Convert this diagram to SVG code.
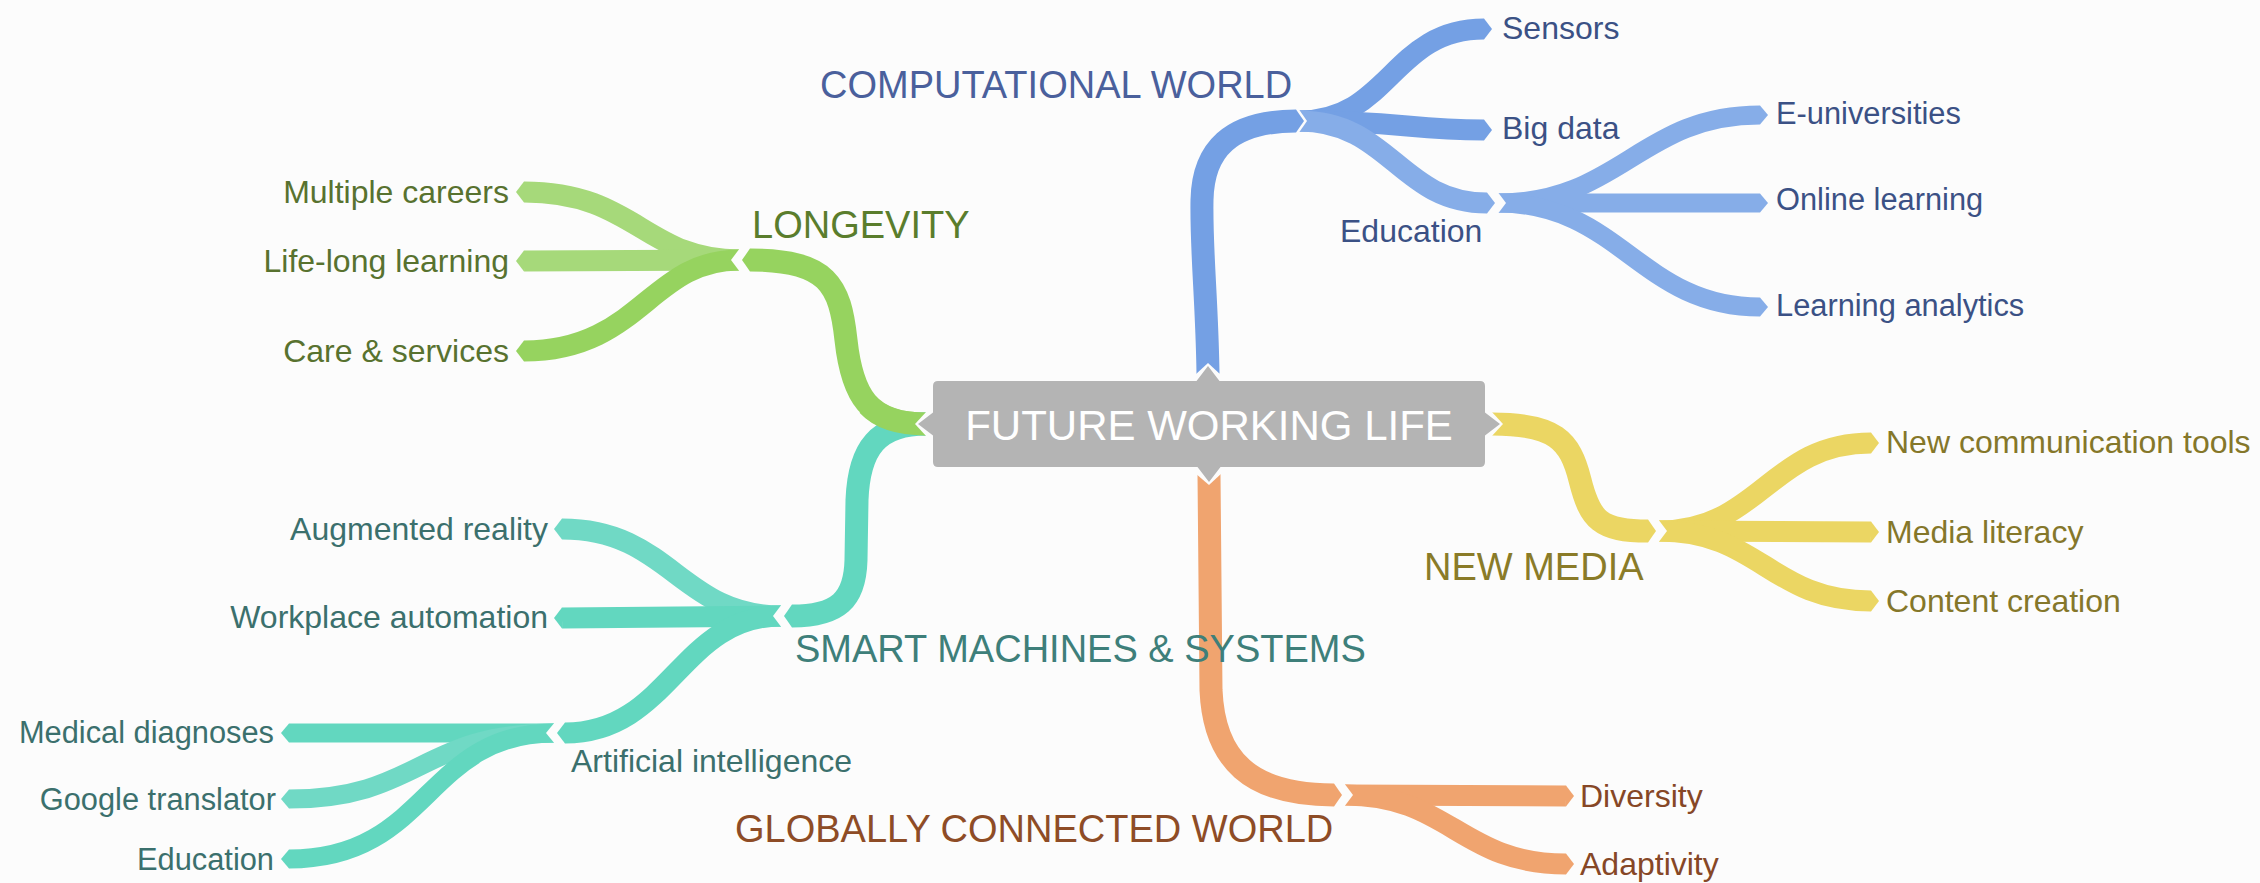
<svg xmlns="http://www.w3.org/2000/svg" width="2260" height="883" viewBox="0 0 2260 883">
<style>
.s{fill:none;stroke-linecap:butt;stroke-linejoin:round}
.w1{stroke-width:23}.w2{stroke-width:21}.w3{stroke-width:19}
.bl{stroke:#74a0e4}.bl2{stroke:#86ade8}
.gr{stroke:#96d35f}.gr2{stroke:#a6d97a}
.te{stroke:#62d7bf}.te2{stroke:#70d9c5}
.ye{stroke:#ebd663}
.or{stroke:#f0a46f}
.fbl{fill:#74a0e4}.fbl2{fill:#86ade8}.fgr{fill:#96d35f}.fgr2{fill:#a6d97a}.fte{fill:#62d7bf}.fte2{fill:#70d9c5}.fye{fill:#ebd663}.for{fill:#f0a46f}
.n{fill:#fcfcfc}
text{font-family:"Liberation Sans",Arial,sans-serif}
.cat{font-size:38px}.leaf{font-size:32px}.leaf3{font-size:30.8px}
.tb{fill:#4a609c}.tb2{fill:#3b5185}
.tg{fill:#5a7d2c}.tg2{fill:#58722f}
.tt{fill:#3e7f7a}.tt2{fill:#3b706d}
.ty{fill:#8a7b28}.ty2{fill:#85772a}
.to{fill:#8e4c26}.to2{fill:#864726}
</style>
<rect width="2260" height="883" fill="#fcfcfc"/>
<g id="connectors">
  <!-- BLUE -->
  <path class="s w3 bl2" d="M1498,203 C1620,203 1640,115 1760,115"/>
  <path class="s w3 bl2" d="M1498,203 L1760,203"/>
  <path class="s w3 bl2" d="M1498,203 C1620,203 1640,307 1760,307"/>
  <polygon class="fbl2" points="1760,105.5 1768,115 1760,124.5"/>
  <polygon class="fbl2" points="1760,193.5 1768,203 1760,212.5"/>
  <polygon class="fbl2" points="1760,297.5 1768,307 1760,316.5"/>
  <polygon class="n" points="1497,191 1497,215 1506,203"/>
  <path class="s w2 bl" d="M1299,121 C1390,121 1392,29 1484,29"/>
  <path class="s w2 bl" d="M1299,121 C1400,121 1410,130 1484,130"/>
  <path class="s w2 bl2" d="M1299,121 C1390,121 1400,203 1487,203"/>
  <polygon class="fbl" points="1484,18.5 1492,29 1484,39.5"/>
  <polygon class="fbl" points="1484,119.5 1492,130 1484,140.5"/>
  <polygon class="fbl2" points="1487,192.5 1495,203 1487,213.5"/>
  <polygon class="n" points="1298,108 1298,134 1307,121"/>
  <path class="s w1 bl" d="M1208,374 C1207,300 1201,250 1202,200 C1203,150 1230,121 1296,121"/>
  <polygon class="fbl" points="1296,109.5 1304,121 1296,132.5"/>
  <polygon class="n" points="1195,375 1221,375 1208,363"/>
  <!-- GREEN -->
  <path class="s w2 gr2" d="M739,260 C645,260 635,192 524,192"/>
  <path class="s w2 gr2" d="M739,260 L524,261"/>
  <path class="s w2 gr" d="M739,260 C650,260 640,351 524,351"/>
  <polygon class="fgr2" points="524,181.5 516,192 524,202.5"/>
  <polygon class="fgr2" points="524,250.5 516,261 524,271.5"/>
  <polygon class="fgr" points="524,340.5 516,351 524,361.5"/>
  <polygon class="n" points="740,248 740,272 731,260"/>
  <path class="s w1 gr" d="M926,424 C868,424 852,395 846,340 C840,285 828,260 750,260"/>
  <polygon class="fgr" points="750,248.5 742,260 750,271.5"/>
  <!-- TEAL -->
  <path class="s w3 te" d="M554,733 L289,733"/>
  <path class="s w3 te2" d="M554,733 C420,733 420,799 289,799"/>
  <path class="s w3 te" d="M554,733 C425,733 430,859 289,859"/>
  <polygon class="fte" points="289,723.5 281,733 289,742.5"/>
  <polygon class="fte2" points="289,789.5 281,799 289,808.5"/>
  <polygon class="fte" points="289,849.5 281,859 289,868.5"/>
  <polygon class="n" points="555,722 555,744 546,733"/>
  <path class="s w2 te2" d="M781,616 C680,616 670,529 562,529"/>
  <path class="s w2 te" d="M781,616 L562,618"/>
  <path class="s w2 te" d="M781,616 C680,616 670,733 565,733"/>
  <polygon class="fte2" points="562,518.5 554,529 562,539.5"/>
  <polygon class="fte" points="562,607.5 554,618 562,628.5"/>
  <polygon class="fte" points="565,722.5 557,733 565,743.5"/>
  <polygon class="n" points="782,604 782,628 773,616"/>
  <path class="s w1 te" d="M926,424 C878,424 859,448 857,500 L856,560 C855,600 838,616 792,616"/>
  <polygon class="fte" points="792,604.5 784,616 792,627.5"/>
  <path class="s w1 gr" d="M926,424 C900,424 880,418 868,405"/>
  <polygon class="n" points="927,411 927,437 915,424"/>
  <!-- YELLOW -->
  <path class="s w2 ye" d="M1659,531 C1760,531 1770,443 1871,443"/>
  <path class="s w2 ye" d="M1659,531 L1871,532"/>
  <path class="s w2 ye" d="M1659,531 C1760,531 1770,601 1871,601"/>
  <polygon class="fye" points="1871,432.5 1879,443 1871,453.5"/>
  <polygon class="fye" points="1871,521.5 1879,532 1871,542.5"/>
  <polygon class="fye" points="1871,590.5 1879,601 1871,611.5"/>
  <polygon class="n" points="1658,519 1658,543 1667,531"/>
  <path class="s w1 ye" d="M1492,424 C1555,424 1570,440 1580,480 C1590,520 1600,531 1648,531"/>
  <polygon class="fye" points="1648,519.5 1656,531 1648,542.5"/>
  <polygon class="n" points="1491,411 1491,437 1503,424"/>
  <!-- ORANGE -->
  <path class="s w2 or" d="M1345,795 L1566,796"/>
  <path class="s w2 or" d="M1345,795 C1450,795 1460,864 1566,864"/>
  <polygon class="for" points="1566,785.5 1574,796 1566,806.5"/>
  <polygon class="for" points="1566,853.5 1574,864 1566,874.5"/>
  <polygon class="n" points="1344,783 1344,807 1353,795"/>
  <path class="s w1 or" d="M1209,474 L1211,690 C1214,760 1250,795 1334,795"/>
  <polygon class="for" points="1334,783.5 1342,795 1334,806.5"/>
  <polygon class="n" points="1195,473 1222,473 1209,485"/>
</g>
<g id="center">
  <path fill="#b4b4b4" d="M938,381 H1196.5 L1208,366 L1219.5,381 H1480 Q1485,381 1485,386 V412.5 L1500,424 L1485,435.5 V462 Q1485,467 1480,467 H1220.5 L1209,482 L1197.5,467 H938 Q933,467 933,462 V435.5 L918,424 L933,412.5 V386 Q933,381 938,381 Z"/>
  <text x="1209" y="440" text-anchor="middle" font-size="42" fill="#ffffff">FUTURE WORKING LIFE</text>
</g>
<g id="computational-world"><text class="cat tb" x="820" y="98">COMPUTATIONAL WORLD</text></g>
<g id="sensors"><text class="leaf tb2" x="1502" y="39">Sensors</text></g>
<g id="big-data"><text class="leaf tb2" x="1502" y="139">Big data</text></g>
<g id="education-blue"><text class="leaf tb2" x="1340" y="242">Education</text></g>
<g id="e-universities"><text class="leaf3 tb2" x="1776" y="124">E-universities</text></g>
<g id="online-learning"><text class="leaf3 tb2" x="1776" y="210">Online learning</text></g>
<g id="learning-analytics"><text class="leaf3 tb2" x="1776" y="316">Learning analytics</text></g>
<g id="longevity"><text class="cat tg" x="752" y="238">LONGEVITY</text></g>
<g id="multiple-careers"><text class="leaf tg2" x="509" y="203" text-anchor="end">Multiple careers</text></g>
<g id="life-long-learning"><text class="leaf tg2" x="509" y="272" text-anchor="end">Life-long learning</text></g>
<g id="care-services"><text class="leaf tg2" x="509" y="362" text-anchor="end">Care &amp; services</text></g>
<g id="smart-machines"><text class="cat tt" x="795" y="662">SMART MACHINES &amp; SYSTEMS</text></g>
<g id="augmented-reality"><text class="leaf tt2" x="548" y="540" text-anchor="end">Augmented reality</text></g>
<g id="workplace-automation"><text class="leaf tt2" x="548" y="628" text-anchor="end">Workplace automation</text></g>
<g id="artificial-intelligence"><text class="leaf tt2" x="571" y="772">Artificial intelligence</text></g>
<g id="medical-diagnoses"><text class="leaf3 tt2" x="274" y="743" text-anchor="end">Medical diagnoses</text></g>
<g id="google-translator"><text class="leaf3 tt2" x="276" y="810" text-anchor="end">Google translator</text></g>
<g id="education-teal"><text class="leaf3 tt2" x="274" y="870" text-anchor="end">Education</text></g>
<g id="new-media"><text class="cat ty" x="1424" y="580">NEW MEDIA</text></g>
<g id="new-communication-tools"><text class="leaf ty2" x="1886" y="453">New communication tools</text></g>
<g id="media-literacy"><text class="leaf ty2" x="1886" y="543">Media literacy</text></g>
<g id="content-creation"><text class="leaf ty2" x="1886" y="612">Content creation</text></g>
<g id="globally-connected-world"><text class="cat to" x="735" y="842">GLOBALLY CONNECTED WORLD</text></g>
<g id="diversity"><text class="leaf to2" x="1580" y="807">Diversity</text></g>
<g id="adaptivity"><text class="leaf to2" x="1580" y="875">Adaptivity</text></g>
</svg>
